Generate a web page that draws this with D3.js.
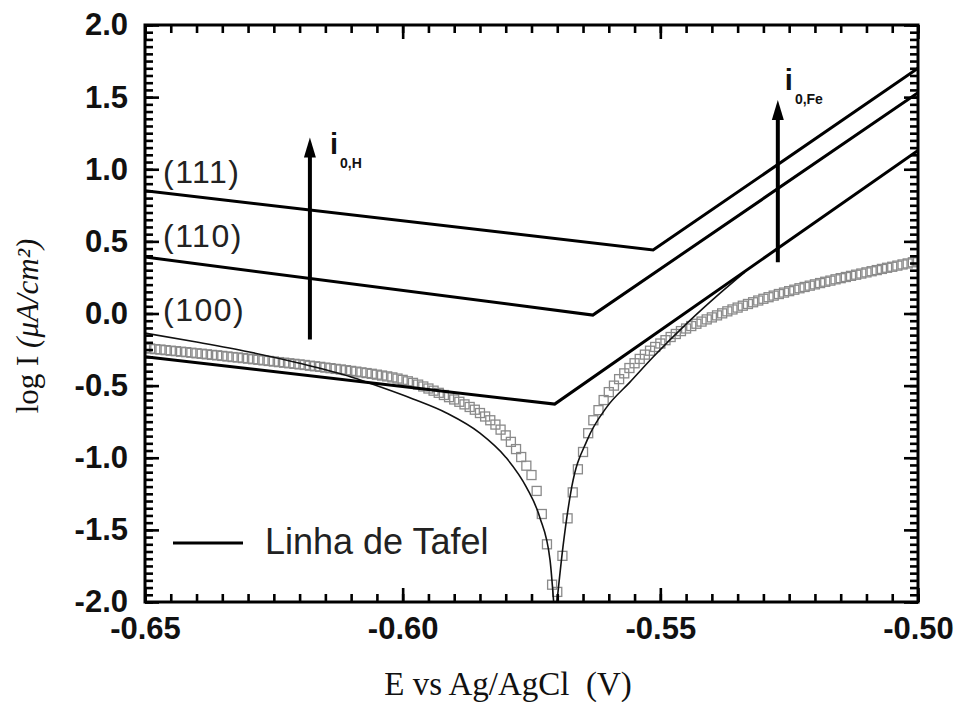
<!DOCTYPE html>
<html>
<head>
<meta charset="utf-8">
<script src="https://cdn.jsdelivr.net/npm/d3@7"></script>
<style>
  body { margin: 0; background: #fff; }
  svg { display: block; }
  .tick text { font-family: "Liberation Sans", Arial, sans-serif; font-weight: bold; font-size: 31px; fill: #111; }
</style>
</head>
<body>
<svg id="chart"></svg>
<script>
// measured potentials (V vs Ag/AgCl), one square marker per mV
const expE = [
  -0.650,-0.649,-0.648,-0.647,-0.646,-0.645,-0.644,-0.643,-0.642,-0.641,
  -0.640,-0.639,-0.638,-0.637,-0.636,-0.635,-0.634,-0.633,-0.632,-0.631,
  -0.630,-0.629,-0.628,-0.627,-0.626,-0.625,-0.624,-0.623,-0.622,-0.621,
  -0.620,-0.619,-0.618,-0.617,-0.616,-0.615,-0.614,-0.613,-0.612,-0.611,
  -0.610,-0.609,-0.608,-0.607,-0.606,-0.605,-0.604,-0.603,-0.602,-0.601,
  -0.600,-0.599,-0.598,-0.597,-0.596,-0.595,-0.594,-0.593,-0.592,-0.591,
  -0.590,-0.589,-0.588,-0.587,-0.586,-0.585,-0.584,-0.583,-0.582,-0.581,
  -0.580,-0.579,-0.578,-0.577,-0.576,-0.575,-0.574,-0.573,-0.572,-0.571,
  -0.570,-0.569,-0.568,-0.567,-0.566,-0.565,-0.564,-0.563,-0.562,-0.561,
  -0.560,-0.559,-0.558,-0.557,-0.556,-0.555,-0.554,-0.553,-0.552,-0.551,
  -0.550,-0.549,-0.548,-0.547,-0.546,-0.545,-0.544,-0.543,-0.542,-0.541,
  -0.540,-0.539,-0.538,-0.537,-0.536,-0.535,-0.534,-0.533,-0.532,-0.531,
  -0.530,-0.529,-0.528,-0.527,-0.526,-0.525,-0.524,-0.523,-0.522,-0.521,
  -0.520,-0.519,-0.518,-0.517,-0.516,-0.515,-0.514,-0.513,-0.512,-0.511,
  -0.510,-0.509,-0.508,-0.507,-0.506,-0.505,-0.504,-0.503,-0.502,-0.501,
  -0.500
];
const expLogI = [
  -0.240,-0.243,-0.247,-0.250,-0.254,-0.258,-0.261,-0.265,-0.268,-0.272,
  -0.276,-0.279,-0.283,-0.287,-0.290,-0.294,-0.298,-0.302,-0.305,-0.309,
  -0.313,-0.317,-0.321,-0.325,-0.329,-0.333,-0.337,-0.341,-0.345,-0.349,
  -0.353,-0.357,-0.362,-0.366,-0.370,-0.375,-0.379,-0.384,-0.388,-0.393,
  -0.398,-0.403,-0.408,-0.413,-0.418,-0.424,-0.430,-0.436,-0.443,-0.451,
  -0.460,-0.470,-0.481,-0.493,-0.506,-0.520,-0.535,-0.550,-0.565,-0.580,
  -0.596,-0.612,-0.630,-0.648,-0.667,-0.690,-0.714,-0.740,-0.770,-0.805,
  -0.845,-0.890,-0.940,-0.995,-1.055,-1.120,-1.230,-1.390,-1.600,-1.880,
  -1.930,-1.680,-1.420,-1.240,-1.080,-0.960,-0.830,-0.740,-0.670,-0.600,
  -0.545,-0.500,-0.455,-0.415,-0.378,-0.345,-0.315,-0.285,-0.258,-0.232,
  -0.208,-0.185,-0.163,-0.142,-0.122,-0.104,-0.087,-0.071,-0.056,-0.041,
  -0.027,-0.013,0.001,0.015,0.028,0.041,0.054,0.066,0.078,0.090,
  0.102,0.113,0.124,0.135,0.145,0.155,0.165,0.175,0.184,0.193,
  0.202,0.211,0.220,0.228,0.237,0.245,0.253,0.261,0.269,0.277,
  0.285,0.293,0.301,0.309,0.317,0.324,0.332,0.340,0.347,0.355,
  0.362
];

// thin fitted curve, cathodic and anodic branches
const fitCathE    = [-0.650,-0.640,-0.630,-0.620,-0.610,-0.604,-0.598,-0.5914,-0.585,-0.580,-0.576,-0.5734,-0.5714,-0.5706];
const fitCathLogI = [-0.136,-0.198,-0.265,-0.345,-0.440,-0.513,-0.592,-0.691,-0.829,-0.996,-1.204,-1.412,-1.710,-2.05];
const fitAnodE    = [-0.5702,-0.5689,-0.5672,-0.5642,-0.5604,-0.5559,-0.5514,-0.5448,-0.5384,-0.5336];
const fitAnodLogI = [-2.05,-1.620,-1.204,-0.878,-0.649,-0.476,-0.302,-0.067,0.141,0.287];

// Tafel lines per crystal face: start, vertex, end
const faces = ["(111)", "(110)", "(100)"];
const tafelE = [
  [-0.650, -0.5514, -0.500],
  [-0.650, -0.5631, -0.500],
  [-0.650, -0.5705, -0.500]
];
const tafelLogI = [
  [0.851, 0.440, 1.700],
  [0.391, -0.011, 1.530],
  [-0.300, -0.628, 1.130]
];
const faceLabelLogI = [0.905, 0.46, -0.055];

// exchange current arrows
const arrowNames = ["H", "Fe"];
const arrowE = [-0.618, -0.5272];
const arrowFrom = [-0.18, 0.356];
const arrowTo = [1.22, 1.48];

const xTicks = [-0.65, -0.60, -0.55, -0.50];
const yTicks = [-2.0, -1.5, -1.0, -0.5, 0.0, 0.5, 1.0, 1.5, 2.0];

const width = 961, height = 702;
const margin = { top: 25, right: 43, bottom: 100, left: 145 };
const w = width - margin.left - margin.right;
const h = height - margin.top - margin.bottom;

const svg = d3.select("#chart").attr("width", width).attr("height", height);
const g = svg.append("g").attr("transform", `translate(${margin.left},${margin.top})`);

const x = d3.scaleLinear().domain([-0.65, -0.50]).range([0, w]);
const y = d3.scaleLinear().domain([-2, 2]).range([h, 0]);

svg.append("defs").append("clipPath").attr("id", "plotClip")
  .append("rect").attr("width", w).attr("height", h);

const plot = g.append("g").attr("clip-path", "url(#plotClip)");

// experimental squares
plot.selectAll(".sq")
  .data(expE.map((e, i) => [e, expLogI[i]]))
  .join("rect")
  .attr("class", "sq")
  .attr("x", d => x(d[0]) - 4.5)
  .attr("y", d => y(d[1]) - 4.5)
  .attr("width", 9)
  .attr("height", 9)
  .attr("fill", "none")
  .attr("stroke", "#8a8a8a")
  .attr("stroke-width", 1.3);

// fitted curve
const fitLine = d3.line().x(d => x(d[0])).y(d => y(d[1])).curve(d3.curveMonotoneX);
[[fitCathE, fitCathLogI], [fitAnodE, fitAnodLogI]].forEach(([es, ls]) => {
  plot.append("path")
    .datum(es.map((e, i) => [e, ls[i]]))
    .attr("d", fitLine)
    .attr("fill", "none")
    .attr("stroke", "#111")
    .attr("stroke-width", 1.6);
});

// Tafel lines
const tafelLine = d3.line().x(d => x(d[0])).y(d => y(d[1]));
plot.selectAll(".tafel")
  .data(faces.map((f, i) => tafelE[i].map((e, j) => [e, tafelLogI[i][j]])))
  .join("path")
  .attr("class", "tafel")
  .attr("d", tafelLine)
  .attr("fill", "none")
  .attr("stroke", "#000")
  .attr("stroke-width", 3);

// face labels
g.selectAll(".face")
  .data(faces)
  .join("text")
  .attr("class", "face")
  .attr("x", 18)
  .attr("y", (d, i) => y(faceLabelLogI[i]))
  .attr("font-family", "Liberation Sans, Arial, sans-serif")
  .attr("font-size", 32)
  .attr("letter-spacing", 1.5)
  .attr("fill", "#222")
  .text(d => d);

// arrows
arrowNames.forEach((name, i) => {
  const ax = x(arrowE[i]);
  const y0 = y(arrowFrom[i]), y1 = y(arrowTo[i]);
  g.append("line")
    .attr("x1", ax).attr("x2", ax)
    .attr("y1", y0).attr("y2", y1 + 16)
    .attr("stroke", "#000").attr("stroke-width", 4);
  g.append("path")
    .attr("d", `M${ax},${y1} L${ax - 6},${y1 + 20} L${ax + 6},${y1 + 20} Z`)
    .attr("fill", "#000");
  const lab = g.append("text")
    .attr("font-family", "Liberation Sans, Arial, sans-serif")
    .attr("font-weight", "bold")
    .attr("fill", "#111");
  const lx = name === "H" ? ax + 20 : ax + 7;
  const ly = name === "H" ? y1 + 16 : y1 - 10;
  lab.append("tspan").attr("x", lx).attr("y", ly).attr("font-size", 29).text("i");
  lab.append("tspan").attr("dx", 2).attr("dy", 14).attr("font-size", 14).text("0," + name);
});

// legend
const leg = g.append("g").attr("transform", `translate(28, ${h - 59})`);
leg.append("line").attr("x1", 0).attr("x2", 70)
  .attr("stroke", "#000").attr("stroke-width", 3);
leg.append("text").attr("x", 92).attr("y", 11)
  .attr("font-family", "Liberation Sans, Arial, sans-serif")
  .attr("font-size", 36).attr("fill", "#222")
  .text("Linha de Tafel");

// frame first, ticks drawn over it
g.append("rect")
  .attr("width", w).attr("height", h)
  .attr("fill", "none").attr("stroke", "#000").attr("stroke-width", 3);

// axes: major and minor ticks, all pointing inward
const fmtX = d => d.toFixed(2);
const fmtY = d => d.toFixed(1);
const xMinor = x.ticks(30), yMinor = y.ticks(80);

function inward(sel) {
  sel.select(".domain").remove();
  sel.selectAll(".tick line").attr("stroke", "#000").attr("stroke-width", 2.6);
}

g.append("g").attr("transform", `translate(0,${h})`)
  .call(d3.axisBottom(x).tickValues(xMinor).tickSize(-8).tickFormat(""))
  .call(inward);
g.append("g").attr("transform", `translate(0,${h})`)
  .call(d3.axisBottom(x).tickValues(xTicks).tickSize(-14).tickPadding(15).tickFormat(fmtX))
  .call(inward);
g.append("g")
  .call(d3.axisTop(x).tickValues(xMinor).tickSize(-8).tickFormat(""))
  .call(inward);
g.append("g")
  .call(d3.axisTop(x).tickValues(xTicks).tickSize(-14).tickFormat(""))
  .call(inward);

g.append("g")
  .call(d3.axisLeft(y).tickValues(yMinor).tickSize(-8).tickFormat(""))
  .call(inward);
g.append("g")
  .call(d3.axisLeft(y).tickValues(yTicks).tickSize(-14).tickPadding(17).tickFormat(fmtY))
  .call(inward);
g.append("g").attr("transform", `translate(${w},0)`)
  .call(d3.axisRight(y).tickValues(yMinor).tickSize(-8).tickFormat(""))
  .call(inward);
g.append("g").attr("transform", `translate(${w},0)`)
  .call(d3.axisRight(y).tickValues(yTicks).tickSize(-14).tickFormat(""))
  .call(inward);

// axis titles
svg.append("text")
  .attr("x", 508).attr("y", 695)
  .attr("text-anchor", "middle")
  .attr("font-family", "Liberation Serif, Times New Roman, serif")
  .attr("font-size", 33)
  .attr("fill", "#111")
  .style("white-space", "pre")
  .text("E vs Ag/AgCl  (V)");

const yt = svg.append("text")
  .attr("transform", "translate(38,326) rotate(-90)")
  .attr("text-anchor", "middle")
  .attr("font-family", "Liberation Serif, Times New Roman, serif")
  .attr("font-size", 31)
  .attr("fill", "#111");
yt.append("tspan").text("log I ");
yt.append("tspan").attr("font-style", "italic").text("(μA/cm²)");
</script>
</body>
</html>
